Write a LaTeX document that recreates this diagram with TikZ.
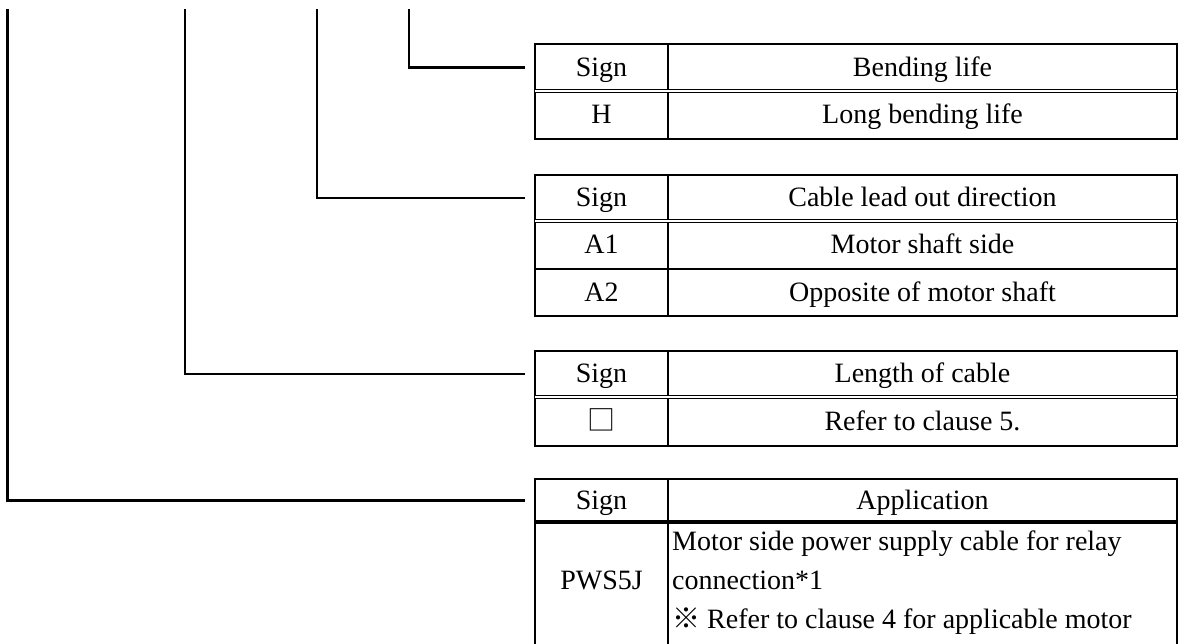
\documentclass[tikz,border=0pt]{standalone}
\usepackage{fontspec}
\setmainfont{Liberation Serif}
\newfontfamily\cjkfont{Noto Sans CJK JP}
\begin{document}
\begin{tikzpicture}[x=1pt,y=-1pt,
  font=\fontsize{28}{39}\selectfont,
  tbl/.style={line width=2.2pt},
  hsep/.style={double, double distance=1.4pt, line width=1.4pt},
  thicksep/.style={line width=3.2pt},
  conn/.style={line width=2.2pt, shorten >=10pt},
  cell/.style={inner sep=0pt, text height=19pt, text depth=2pt},
  signcell/.style={cell, minimum width=133pt}]
\useasboundingbox (0,0) rectangle (1184,643);

% Table 1: Bending life
\draw[tbl] (535,44) rectangle (1177,139);
\draw[tbl] (668,44) -- (668,139);
\draw[hsep] (535,91) -- (1177,91);
\node[signcell] (t1s) at (601.5,67.5) {Sign};
\node[cell] (t1h) at (922.5,67.5) {Bending life};
\node[cell] (t1a) at (601.5,115) {H};
\node[cell] (t1b) at (922.5,115) {Long bending life};

% Table 2: Cable lead out direction
\draw[tbl] (535,175) rectangle (1177,316);
\draw[tbl] (668,175) -- (668,316);
\draw[tbl] (535,269) -- (1177,269);
\draw[hsep] (535,221) -- (1177,221);
\node[signcell] (t2s) at (601.5,198) {Sign};
\node[cell] (t2h) at (922.5,198) {Cable lead out direction};
\node[cell] (t2a) at (601.5,245) {A1};
\node[cell] (t2b) at (922.5,245) {Motor shaft side};
\node[cell] (t2c) at (601.5,292.5) {A2};
\node[cell] (t2d) at (922.5,292.5) {Opposite of motor shaft};

% Table 3: Length of cable
\draw[tbl] (535,351) rectangle (1177,446);
\draw[tbl] (668,351) -- (668,446);
\draw[hsep] (535,397) -- (1177,397);
\node[signcell] (t3s) at (601.5,374) {Sign};
\node[cell] (t3h) at (922.5,374) {Length of cable};
\node[cell] (t3a) at (601.5,421.5) {{\cjkfont □}};
\node[cell] (t3b) at (922.5,421.5) {Refer to clause 5.};

% Table 4: Application
\draw[tbl] (535,479) rectangle (1177,660);
\draw[tbl] (668,479) -- (668,660);
\draw[thicksep] (535,522) -- (1177,522);
\node[signcell] (t4s) at (601.5,500.5) {Sign};
\node[cell] (t4h) at (922.5,500.5) {Application};
\node[cell] (t4a) at (601.5,581) {PWS5J};
\node[anchor=north west, inner sep=0pt, align=left] (t4b) at (672,531)
  {Motor side power supply cable for relay\\connection*1\\{\cjkfont ※} Refer to clause 4 for applicable motor};

% Connectors
\coordinate (v1) at (409,9);
\coordinate (v2) at (317,9);
\coordinate (v3) at (185,9);
\coordinate (v4) at (7.5,9);
\draw[conn] (v1) |- (t1s.west);
\draw[conn] (v2) |- (t2s.west);
\draw[conn] (v3) |- (t3s.west);
\draw[conn] (v4) |- (t4s.west);
\end{tikzpicture}
\end{document}
